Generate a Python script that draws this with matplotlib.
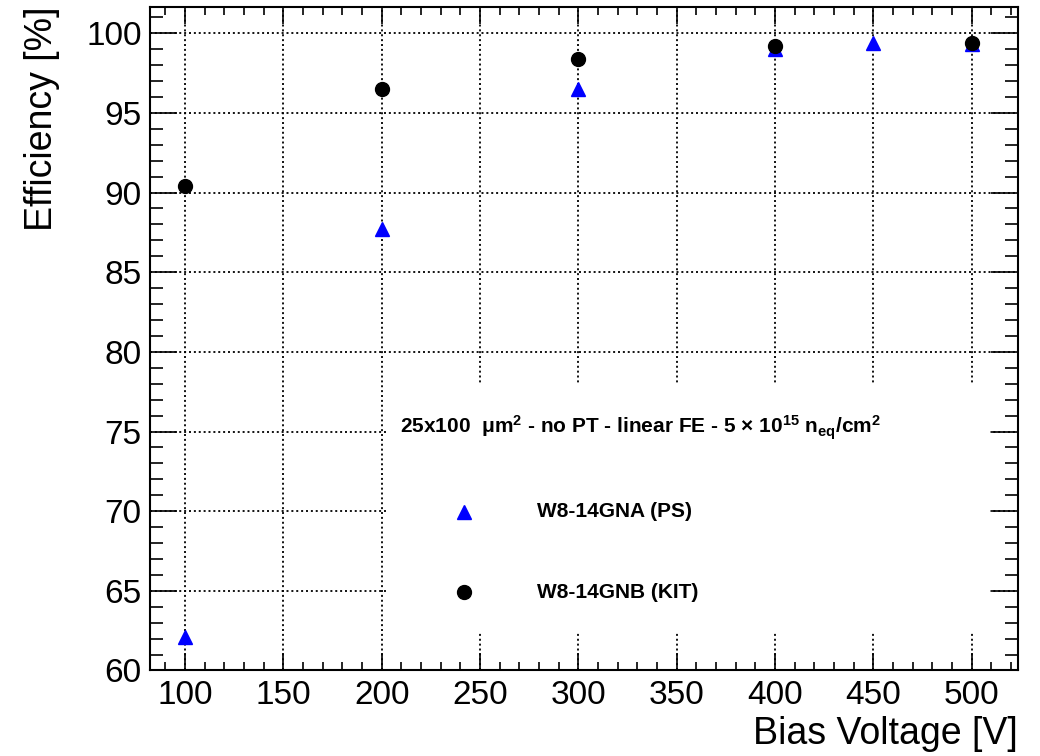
import matplotlib
matplotlib.use("Agg")
import matplotlib.pyplot as plt
from matplotlib.patches import Rectangle
from matplotlib.ticker import MultipleLocator

plt.rcParams["font.family"] = ["Liberation Sans", "DejaVu Sans"]
plt.rcParams["mathtext.fontset"] = "custom"
plt.rcParams["mathtext.rm"] = "Liberation Sans:bold"
plt.rcParams["mathtext.bf"] = "Liberation Sans:bold"
plt.rcParams["mathtext.default"] = "rm"

# data
volt_ps = [100, 200, 300, 400, 450, 500]
eff_ps = [62.1, 87.7, 96.5, 99.0, 99.4, 99.35]
volt_kit = [100, 200, 300, 400, 500]
eff_kit = [90.4, 96.5, 98.4, 99.2, 99.4]

label_ps = "W8-14GNA (PS)"
label_kit = "W8-14GNB (KIT)"
header = r"25x100  μm$^{2}$ - no PT - linear FE - 5 $\times$ 10$^{15}$ n$_{eq}$/cm$^{2}$"

xticks = [100, 150, 200, 250, 300, 350, 400, 450, 500]
yticks = [60, 65, 70, 75, 80, 85, 90, 95, 100]

fig = plt.figure(figsize=(10.4, 7.56), dpi=100)
ax = fig.add_axes([0.1442, 0.1131, 0.8346, 0.8781])
ax.set_xlim(82.2, 523.5)
ax.set_ylim(60, 101.67)

# grid drawn by hand so the legend box can cover it
for x in xticks:
    ax.axvline(x, color="black", lw=1.3, ls=(0, (1.1, 1.6)), zorder=1)
for y in yticks:
    ax.axhline(y, color="black", lw=1.3, ls=(0, (1.1, 1.6)), zorder=1)

ax.add_patch(Rectangle((0.272, 0.058), 0.696, 0.372, transform=ax.transAxes,
                       facecolor="white", edgecolor="none", zorder=1.5))

ax.plot(volt_ps, eff_ps, ls="none", marker="^", ms=9.5, color="#0000ff", zorder=3)
ax.plot(volt_kit, eff_kit, ls="none", marker="o", ms=10, color="black", zorder=4)

ax.set_xticks(xticks)
ax.set_yticks(yticks)
ax.xaxis.set_minor_locator(MultipleLocator(10))
ax.yaxis.set_minor_locator(MultipleLocator(1))
ax.tick_params(axis="both", which="both", direction="in", top=True, right=True,
               width=1.2, labelsize=24)
ax.tick_params(axis="x", which="major", length=12.2, pad=7)
ax.tick_params(axis="x", which="minor", length=6)
ax.tick_params(axis="y", which="major", length=19.4, pad=6)
ax.tick_params(axis="y", which="minor", length=9.7)
for s in ax.spines.values():
    s.set_linewidth(1.5)

ax.set_xlabel("Bias Voltage [V]", fontsize=27, ha="right")
ax.xaxis.set_label_coords(1.0, -0.068)
ax.text(-0.124, 1.0, "Efficiency [%]", transform=ax.transAxes, rotation=90,
        ha="center", va="top", fontsize=27)

# legend
ax.text(0.5645, 0.365, header, transform=ax.transAxes, ha="center", va="center",
        fontsize=15, fontweight="bold", zorder=5)
ax.plot([0.362], [0.239], transform=ax.transAxes, ls="none", marker="^", ms=9.5,
        color="#0000ff", zorder=5)
ax.text(0.446, 0.239, label_ps, transform=ax.transAxes, ha="left", va="center",
        fontsize=15, fontweight="bold", zorder=5)
ax.plot([0.362], [0.118], transform=ax.transAxes, ls="none", marker="o", ms=10,
        color="black", zorder=5)
ax.text(0.446, 0.118, label_kit, transform=ax.transAxes, ha="left", va="center",
        fontsize=15, fontweight="bold", zorder=5)

fig.savefig("out.png", dpi=100)
